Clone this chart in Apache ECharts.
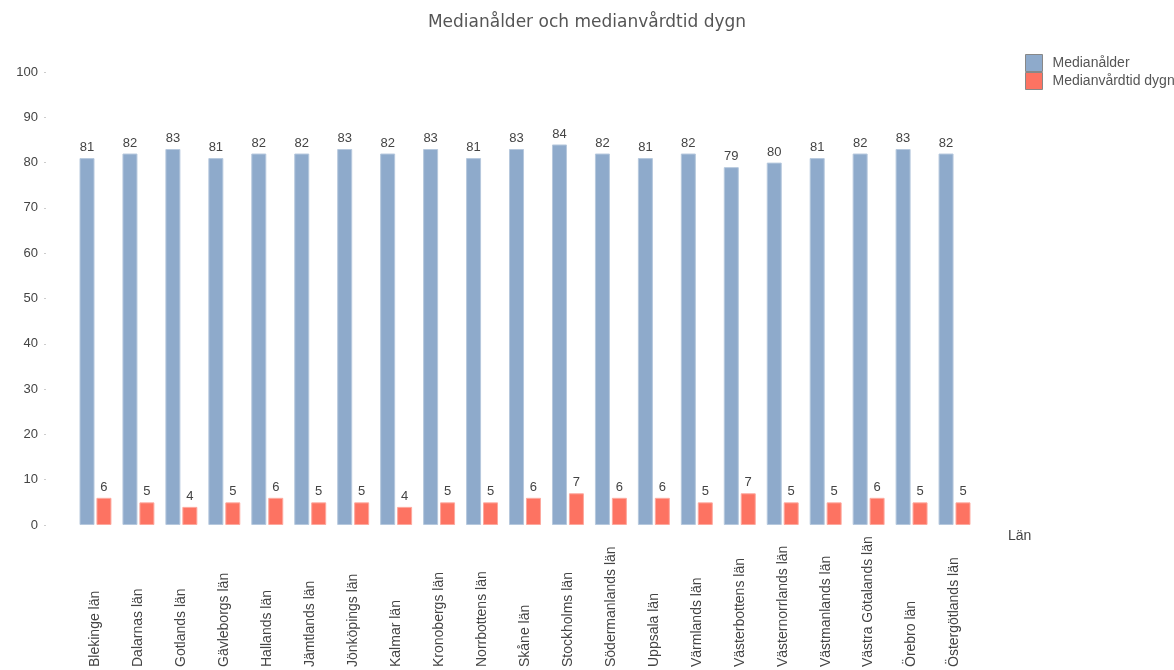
<!DOCTYPE html>
<html>
<head>
<meta charset="utf-8">
<script src="https://cdn.jsdelivr.net/npm/echarts@6/dist/echarts.min.js"></script>
<style>
  html, body { margin: 0; padding: 0; background: #fff; }
  #chart { width: 1174px; height: 670px; }
</style>
</head>
<body>
<div id="chart"></div>
<script>
// Län (counties) along the x axis
const lan = [
  'Blekinge län', 'Dalarnas län', 'Gotlands län', 'Gävleborgs län', 'Hallands län',
  'Jämtlands län', 'Jönköpings län', 'Kalmar län', 'Kronobergs län', 'Norrbottens län',
  'Skåne län', 'Stockholms län', 'Södermanlands län', 'Uppsala län', 'Värmlands län',
  'Västerbottens län', 'Västernorrlands län', 'Västmanlands län', 'Västra Götalands län',
  'Örebro län', 'Östergötlands län'
];
// Median age per county
const medianalder = [81, 82, 83, 81, 82, 82, 83, 82, 83, 81, 83, 84, 82, 81, 82, 79, 80, 81, 82, 83, 82];
// Median length of stay (days) per county
const medianvardtid = [6, 5, 4, 5, 6, 5, 5, 4, 5, 5, 6, 7, 6, 6, 5, 7, 5, 5, 6, 5, 5];
// Value axis ticks
const yTicks = { min: 0, max: 100, interval: 10 };

const font = 'Liberation Sans, Arial, sans-serif';
const chart = echarts.init(document.getElementById('chart'), null, { renderer: 'canvas' });

const labelStyle = {
  show: true,
  position: 'top',
  distance: 4,
  color: '#444',
  fontSize: 13,
  fontFamily: font
};

chart.setOption({
  animation: false,
  backgroundColor: '#fff',
  title: {
    text: 'Medianålder och medianvårdtid dygn',
    left: 'center',
    top: 9,
    textStyle: { fontFamily: 'DejaVu Sans, Verdana, sans-serif', fontSize: 17, fontWeight: 'normal', color: '#555' }
  },
  legend: {
    orient: 'vertical',
    left: 1025,
    top: 54,
    padding: 0,
    itemWidth: 17,
    itemHeight: 17,
    itemGap: 0,
    icon: 'rect',
    textStyle: { fontFamily: font, fontSize: 14, color: '#555', padding: [0, 0, 0, 5] },
    data: [
      { name: 'Medianålder', itemStyle: { borderColor: '#888', borderWidth: 1 } },
      { name: 'Medianvårdtid dygn', itemStyle: { borderColor: '#888', borderWidth: 1 } }
    ]
  },
  grid: { left: 74, right: 198, top: 72, bottom: 141, containLabel: false },
  xAxis: {
    type: 'category',
    data: lan,
    name: 'Län',
    nameLocation: 'end',
    nameGap: 32,
    nameTextStyle: { fontFamily: font, fontSize: 14, color: '#444', verticalAlign: 'top', padding: [4, 0, 0, 0] },
    axisLine: { show: false },
    axisTick: { show: false },
    axisLabel: {
      rotate: 90, align: 'left', margin: 142, interval: 0,
      fontFamily: font, fontSize: 14, color: '#444', padding: [0, 0, 8, 0]
    }
  },
  yAxis: {
    type: 'value',
    min: yTicks.min,
    max: yTicks.max,
    interval: yTicks.interval,
    offset: 28,
    axisLine: { show: false },
    axisTick: { show: true, length: 2, lineStyle: { color: '#ccc' } },
    splitLine: { show: false },
    axisLabel: { margin: 8, fontFamily: font, fontSize: 13, color: '#444' }
  },
  series: [
    {
      name: 'Medianålder',
      type: 'bar',
      data: medianalder,
      barWidth: 15,
      barGap: '13%',
      itemStyle: { color: '#8eaacb', borderColor: '#b6c8dd', borderWidth: 1 },
      label: labelStyle
    },
    {
      name: 'Medianvårdtid dygn',
      type: 'bar',
      data: medianvardtid,
      barWidth: 15,
      itemStyle: { color: '#fd7362', borderColor: '#fda89e', borderWidth: 1 },
      label: labelStyle
    }
  ]
});
</script>
</body>
</html>
